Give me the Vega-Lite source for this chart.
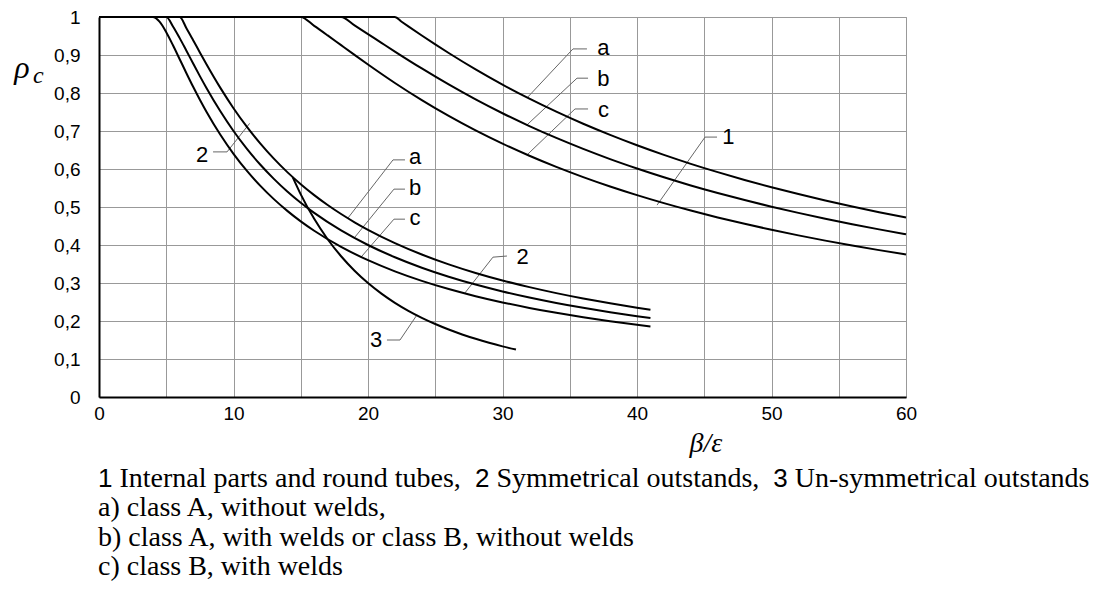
{
  "$schema": "https://vega.github.io/schema/vega-lite/v6.json",
  "autosize": {"type": "none"},
  "width": 807,
  "height": 380,
  "padding": {"left": 99, "top": 17, "right": 198, "bottom": 194},
  "background": "white",
  "config": {"view": {"stroke": "#999", "strokeWidth": 1}},
  "datasets": {
    "curves": [
      {"c":"1a","x":0,"r":1},{"c":"1a","x":22,"r":1},{"c":"1a","x":22.5,"r":0.9876},{"c":"1a","x":23,"r":0.9754},{"c":"1a","x":24,"r":0.9514},{"c":"1a","x":25,"r":0.928},{"c":"1a","x":26,"r":0.9053},{"c":"1a","x":28,"r":0.8622},{"c":"1a","x":30,"r":0.8222},{"c":"1a","x":32,"r":0.7852},{"c":"1a","x":34,"r":0.7509},{"c":"1a","x":36,"r":0.7191},{"c":"1a","x":38,"r":0.6898},{"c":"1a","x":40,"r":0.6625},{"c":"1a","x":42,"r":0.6372},{"c":"1a","x":44,"r":0.6136},{"c":"1a","x":46,"r":0.5917},{"c":"1a","x":48,"r":0.5712},{"c":"1a","x":50,"r":0.552},{"c":"1a","x":52,"r":0.534},{"c":"1a","x":54,"r":0.5171},{"c":"1a","x":56,"r":0.5013},{"c":"1a","x":58,"r":0.4863},{"c":"1a","x":60,"r":0.4722},
      {"c":"1b","x":0,"r":1},{"c":"1b","x":18,"r":1},{"c":"1b","x":19,"r":0.9778},{"c":"1b","x":20,"r":0.955},{"c":"1b","x":21,"r":0.932},{"c":"1b","x":22,"r":0.9091},{"c":"1b","x":24,"r":0.8646},{"c":"1b","x":26,"r":0.8225},{"c":"1b","x":28,"r":0.7832},{"c":"1b","x":30,"r":0.7467},{"c":"1b","x":32,"r":0.7129},{"c":"1b","x":34,"r":0.6817},{"c":"1b","x":36,"r":0.6528},{"c":"1b","x":38,"r":0.626},{"c":"1b","x":40,"r":0.6013},{"c":"1b","x":42,"r":0.5782},{"c":"1b","x":44,"r":0.5568},{"c":"1b","x":46,"r":0.5369},{"c":"1b","x":48,"r":0.5182},{"c":"1b","x":50,"r":0.5008},{"c":"1b","x":52,"r":0.4845},{"c":"1b","x":54,"r":0.4691},{"c":"1b","x":56,"r":0.4547},{"c":"1b","x":58,"r":0.4411},{"c":"1b","x":60,"r":0.4283},
      {"c":"1c","x":0,"r":1},{"c":"1c","x":15,"r":1},{"c":"1c","x":16,"r":0.9766},{"c":"1c","x":17,"r":0.9516},{"c":"1c","x":18,"r":0.9259},{"c":"1c","x":19,"r":0.9003},{"c":"1c","x":20,"r":0.875},{"c":"1c","x":22,"r":0.8264},{"c":"1c","x":24,"r":0.7813},{"c":"1c","x":26,"r":0.7396},{"c":"1c","x":28,"r":0.7015},{"c":"1c","x":30,"r":0.6667},{"c":"1c","x":32,"r":0.6348},{"c":"1c","x":34,"r":0.6055},{"c":"1c","x":36,"r":0.5787},{"c":"1c","x":38,"r":0.554},{"c":"1c","x":40,"r":0.5313},{"c":"1c","x":42,"r":0.5102},{"c":"1c","x":44,"r":0.4907},{"c":"1c","x":46,"r":0.4726},{"c":"1c","x":48,"r":0.4557},{"c":"1c","x":50,"r":0.44},{"c":"1c","x":52,"r":0.4253},{"c":"1c","x":54,"r":0.4115},{"c":"1c","x":56,"r":0.3986},{"c":"1c","x":58,"r":0.3865},{"c":"1c","x":60,"r":0.375},
      {"c":"2a","x":0,"r":1},{"c":"2a","x":6,"r":1},{"c":"2a","x":6.5,"r":0.9704},{"c":"2a","x":7,"r":0.9388},{"c":"2a","x":7.5,"r":0.9067},{"c":"2a","x":8,"r":0.875},{"c":"2a","x":9,"r":0.8148},{"c":"2a","x":10,"r":0.76},{"c":"2a","x":11,"r":0.7107},{"c":"2a","x":12,"r":0.6667},{"c":"2a","x":13,"r":0.6272},{"c":"2a","x":14,"r":0.5918},{"c":"2a","x":15,"r":0.56},{"c":"2a","x":16,"r":0.5313},{"c":"2a","x":17,"r":0.5052},{"c":"2a","x":18,"r":0.4815},{"c":"2a","x":19,"r":0.4598},{"c":"2a","x":20,"r":0.44},{"c":"2a","x":22,"r":0.405},{"c":"2a","x":24,"r":0.375},{"c":"2a","x":26,"r":0.3491},{"c":"2a","x":28,"r":0.3265},{"c":"2a","x":30,"r":0.3067},{"c":"2a","x":32,"r":0.2891},{"c":"2a","x":34,"r":0.2734},{"c":"2a","x":36,"r":0.2593},{"c":"2a","x":38,"r":0.2465},{"c":"2a","x":40,"r":0.235},{"c":"2a","x":41,"r":0.2296},
      {"c":"2b","x":0,"r":1},{"c":"2b","x":5,"r":1},{"c":"2b","x":5.5,"r":0.9752},{"c":"2b","x":6,"r":0.9444},{"c":"2b","x":6.5,"r":0.9112},{"c":"2b","x":7,"r":0.8776},{"c":"2b","x":7.5,"r":0.8444},{"c":"2b","x":8,"r":0.8125},{"c":"2b","x":9,"r":0.7531},{"c":"2b","x":10,"r":0.7},{"c":"2b","x":11,"r":0.6529},{"c":"2b","x":12,"r":0.6111},{"c":"2b","x":13,"r":0.574},{"c":"2b","x":14,"r":0.5408},{"c":"2b","x":15,"r":0.5111},{"c":"2b","x":16,"r":0.4844},{"c":"2b","x":18,"r":0.4383},{"c":"2b","x":20,"r":0.4},{"c":"2b","x":22,"r":0.3678},{"c":"2b","x":24,"r":0.3403},{"c":"2b","x":26,"r":0.3166},{"c":"2b","x":28,"r":0.2959},{"c":"2b","x":30,"r":0.2778},{"c":"2b","x":32,"r":0.2617},{"c":"2b","x":34,"r":0.2474},{"c":"2b","x":36,"r":0.2346},{"c":"2b","x":38,"r":0.223},{"c":"2b","x":40,"r":0.2125},{"c":"2b","x":41,"r":0.2076},
      {"c":"2c","x":0,"r":1},{"c":"2c","x":4,"r":1},{"c":"2c","x":4.5,"r":0.9877},{"c":"2c","x":5,"r":0.96},{"c":"2c","x":5.5,"r":0.9256},{"c":"2c","x":6,"r":0.8889},{"c":"2c","x":6.5,"r":0.8521},{"c":"2c","x":7,"r":0.8163},{"c":"2c","x":7.5,"r":0.7822},{"c":"2c","x":8,"r":0.75},{"c":"2c","x":9,"r":0.6914},{"c":"2c","x":10,"r":0.64},{"c":"2c","x":11,"r":0.595},{"c":"2c","x":12,"r":0.5556},{"c":"2c","x":13,"r":0.5207},{"c":"2c","x":14,"r":0.4898},{"c":"2c","x":15,"r":0.4622},{"c":"2c","x":16,"r":0.4375},{"c":"2c","x":18,"r":0.3951},{"c":"2c","x":20,"r":0.36},{"c":"2c","x":22,"r":0.3306},{"c":"2c","x":24,"r":0.3056},{"c":"2c","x":26,"r":0.284},{"c":"2c","x":28,"r":0.2653},{"c":"2c","x":30,"r":0.2489},{"c":"2c","x":32,"r":0.2344},{"c":"2c","x":34,"r":0.2215},{"c":"2c","x":36,"r":0.2099},{"c":"2c","x":38,"r":0.1994},{"c":"2c","x":40,"r":0.19},{"c":"2c","x":41,"r":0.1856},
      {"c":"3","x":14.4,"r":0.5787},{"c":"3","x":15,"r":0.5333},{"c":"3","x":16,"r":0.4688},{"c":"3","x":17,"r":0.4152},{"c":"3","x":18,"r":0.3704},{"c":"3","x":19,"r":0.3324},{"c":"3","x":20,"r":0.3},{"c":"3","x":21,"r":0.2721},{"c":"3","x":22,"r":0.2479},{"c":"3","x":23,"r":0.2268},{"c":"3","x":24,"r":0.2083},{"c":"3","x":25,"r":0.192},{"c":"3","x":26,"r":0.1775},{"c":"3","x":27,"r":0.1646},{"c":"3","x":28,"r":0.1531},{"c":"3","x":29,"r":0.1427},{"c":"3","x":30,"r":0.1333},{"c":"3","x":31,"r":0.1249}
    ],
    "leaders": [
      {"id":"L1a","i":0,"x":36.28,"r":0.916},{"id":"L1a","i":1,"x":35.24,"r":0.916},{"id":"L1a","i":2,"x":31.82,"r":0.787},
      {"id":"L1b","i":0,"x":36.36,"r":0.839},{"id":"L1b","i":1,"x":35.54,"r":0.839},{"id":"L1b","i":2,"x":31.82,"r":0.716},
      {"id":"L1c","i":0,"x":36.36,"r":0.758},{"id":"L1c","i":1,"x":35.39,"r":0.758},{"id":"L1c","i":2,"x":31.82,"r":0.637},
      {"id":"L1","i":0,"x":45.95,"r":0.684},{"id":"L1","i":1,"x":45.06,"r":0.684},{"id":"L1","i":2,"x":41.49,"r":0.505},
      {"id":"L2u","i":0,"x":8.48,"r":0.645},{"id":"L2u","i":1,"x":9.52,"r":0.645},{"id":"L2u","i":2,"x":11.2,"r":0.72},
      {"id":"L2a","i":0,"x":22.75,"r":0.624},{"id":"L2a","i":1,"x":21.86,"r":0.624},{"id":"L2a","i":2,"x":18.51,"r":0.471},
      {"id":"L2b","i":0,"x":22.75,"r":0.547},{"id":"L2b","i":1,"x":21.93,"r":0.547},{"id":"L2b","i":2,"x":19.03,"r":0.421},
      {"id":"L2c","i":0,"x":22.75,"r":0.468},{"id":"L2c","i":1,"x":21.93,"r":0.468},{"id":"L2c","i":2,"x":19.48,"r":0.368},
      {"id":"L2l","i":0,"x":30.33,"r":0.371},{"id":"L2l","i":1,"x":29.29,"r":0.368},{"id":"L2l","i":2,"x":27.21,"r":0.274},
      {"id":"L3","i":0,"x":21.41,"r":0.15},{"id":"L3","i":1,"x":22.38,"r":0.15},{"id":"L3","i":2,"x":23.64,"r":0.216}
    ],
    "labels": [
      {"t":"a","x":37.5,"r":0.918},{"t":"b","x":37.5,"r":0.837},{"t":"c","x":37.5,"r":0.755},
      {"t":"1","x":46.8,"r":0.684},{"t":"2","x":7.66,"r":0.637},
      {"t":"a","x":23.5,"r":0.632},{"t":"b","x":23.5,"r":0.55},{"t":"c","x":23.5,"r":0.471},
      {"t":"2","x":31.5,"r":0.368},{"t":"3","x":20.6,"r":0.15}
    ],
    "captionSerif": [
      {"t":"Internal parts and round tubes,","x":1.524,"r":-0.2368},
      {"t":"Symmetrical outstands,","x":29.55,"r":-0.2368},
      {"t":"Un-symmetrical outstands","x":51.73,"r":-0.2368},
      {"t":"a) class A, without welds,","x":-0.074,"r":-0.3139},
      {"t":"b) class A, with welds or class B, without welds","x":-0.074,"r":-0.3911},
      {"t":"c) class B, with welds","x":-0.074,"r":-0.4684}
    ],
    "captionSans": [
      {"t":"1","x":-0.074,"r":-0.2368},
      {"t":"2","x":27.95,"r":-0.2368},
      {"t":"3","x":50.13,"r":-0.2368}
    ],
    "rho": [{"t":"ρ","x":-6.3,"r":0.839}],
    "sub": [{"t":"c","x":-4.91,"r":0.827}],
    "xtitle": [{"t":"β/ε","x":45.13,"r":-0.145}]
  },
  "encoding": {
    "x": {
      "field": "x", "type": "quantitative",
      "scale": {"domain": [0, 60], "nice": false, "zero": false},
      "axis": {
        "title": null,
        "values": [0,5,10,15,20,25,30,35,40,45,50,55,60],
        "labelExpr": "datum.value % 10 === 0 ? datum.label : ''",
        "grid": true, "gridColor": "#999", "gridWidth": 1,
        "ticks": false,
        "domainColor": "black", "domainWidth": 2,
        "labelFont": "Liberation Sans", "labelFontSize": 19, "labelColor": "black",
        "labelPadding": 7, "labelFlush": false, "labelOverlap": false
      }
    },
    "y": {
      "field": "r", "type": "quantitative",
      "scale": {"domain": [0, 1], "nice": false, "zero": false},
      "axis": {
        "title": null,
        "values": [0,0.1,0.2,0.3,0.4,0.5,0.6,0.7,0.8,0.9,1],
        "labelExpr": "datum.value == 0 ? '0' : (datum.value == 1 ? '1' : replace(format(datum.value, '.1f'), '.', ','))",
        "grid": true, "gridColor": "#999", "gridWidth": 1,
        "ticks": false,
        "domainColor": "black", "domainWidth": 2,
        "labelFont": "Liberation Sans", "labelFontSize": 19, "labelColor": "black",
        "labelPadding": 19, "labelFlush": false, "labelOverlap": false
      }
    }
  },
  "layer": [
    {
      "data": {"name": "leaders"},
      "mark": {"type": "line", "color": "#666", "strokeWidth": 1, "interpolate": "linear"},
      "encoding": {"detail": {"field": "id"}, "order": {"field": "i", "type": "quantitative"}}
    },
    {
      "data": {"name": "curves"},
      "mark": {"type": "line", "color": "black", "strokeWidth": 2, "interpolate": "monotone"},
      "encoding": {"detail": {"field": "c"}}
    },
    {
      "data": {"name": "labels"},
      "mark": {"type": "text", "font": "Liberation Sans", "fontSize": 22, "color": "black", "align": "center", "baseline": "middle"},
      "encoding": {"text": {"field": "t"}}
    },
    {
      "data": {"name": "captionSerif"},
      "mark": {"type": "text", "font": "Liberation Serif", "fontSize": 28, "color": "black", "align": "left", "baseline": "alphabetic"},
      "encoding": {"text": {"field": "t"}}
    },
    {
      "data": {"name": "captionSans"},
      "mark": {"type": "text", "font": "Liberation Sans", "fontSize": 26, "color": "black", "align": "left", "baseline": "alphabetic"},
      "encoding": {"text": {"field": "t"}}
    },
    {
      "data": {"name": "rho"},
      "mark": {"type": "text", "font": "Liberation Serif", "fontStyle": "italic", "fontSize": 32, "color": "black", "align": "left", "baseline": "alphabetic"},
      "encoding": {"text": {"field": "t"}}
    },
    {
      "data": {"name": "sub"},
      "mark": {"type": "text", "font": "Liberation Serif", "fontStyle": "italic", "fontSize": 24, "color": "black", "align": "left", "baseline": "alphabetic"},
      "encoding": {"text": {"field": "t"}}
    },
    {
      "data": {"name": "xtitle"},
      "mark": {"type": "text", "font": "Liberation Serif", "fontStyle": "italic", "fontSize": 28, "color": "black", "align": "center", "baseline": "alphabetic"},
      "encoding": {"text": {"field": "t"}}
    }
  ]
}
